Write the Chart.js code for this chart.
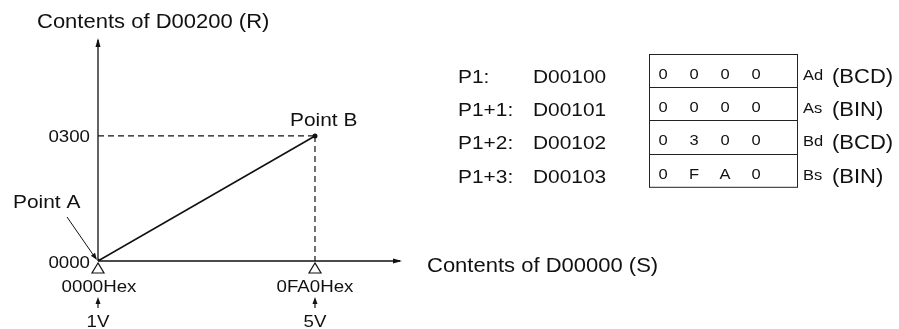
<!DOCTYPE html>
<html lang="en">
<head>
    <meta charset="UTF-8">
    <title>Scaling: D00000 to D00200</title>
    <script src="https://cdn.jsdelivr.net/npm/chart.js"></script>
    <style>
        body {
            margin: 0;
            background: #fff;
        }
        canvas {
            display: block;
        }
    </style>
</head>
<body>
    <canvas id="scaleChart" width="899" height="329"></canvas>

    <script>
        // source (S) and result (R) values, hex words
        const xHexLabels = ['0000Hex', '0FA0Hex'];
        const xValues = [0x0000, 0x0FA0];
        const yValues = [0, 300];
        const yTickLabels = ['0000', '0300'];
        const voltLabels = ['1V', '5V'];
        const pointNames = ['Point A', 'Point B'];

        // parameter words P1..P1+3
        const paramNames = ['P1:', 'P1+1:', 'P1+2:', 'P1+3:'];
        const paramAddrs = ['D00100', 'D00101', 'D00102', 'D00103'];
        const paramWords = ['0000', '0000', '0300', '0FA0'];
        const paramKeys = ['Ad', 'As', 'Bd', 'Bs'];
        const paramFormats = ['(BCD)', '(BIN)', '(BCD)', '(BIN)'];

        const FONT = "'Liberation Sans', Arial, sans-serif";
        const INK = '#111';
        const SX = 1.1;   // the original lettering is a bit wider than Arial

        function arrowHead(ctx, x, y, angle, len, half) {
            ctx.save();
            ctx.translate(x, y);
            ctx.rotate(angle);
            ctx.beginPath();
            ctx.moveTo(0, 0);
            ctx.lineTo(-len, -half);
            ctx.lineTo(-len, half);
            ctx.closePath();
            ctx.fill();
            ctx.restore();
        }

        function textWidth(ctx, str, size) {
            ctx.font = size + 'px ' + FONT;
            return ctx.measureText(str).width * SX;
        }

        function drawText(ctx, str, x, y, size, align) {
            const w = textWidth(ctx, str, size);
            let left = x;
            if (align === 'right') left = x - w;
            if (align === 'center') left = x - w / 2;
            ctx.save();
            ctx.translate(left, y);
            ctx.scale(SX, 1);
            ctx.textAlign = 'left';
            ctx.textBaseline = 'alphabetic';
            ctx.fillText(str, 0, 0);
            ctx.restore();
        }

        const diagramPlugin = {
            id: 'diagram',
            beforeDatasetsDraw(chart) {
                const { ctx, chartArea, scales } = chart;
                const x0 = scales.x.getPixelForValue(0);
                const y0 = scales.y.getPixelForValue(0);
                ctx.save();
                ctx.strokeStyle = INK;
                ctx.fillStyle = INK;
                ctx.lineWidth = 1.3;
                // axes
                ctx.beginPath();
                ctx.moveTo(x0, y0);
                ctx.lineTo(chartArea.right - 2, y0);
                ctx.moveTo(x0, y0);
                ctx.lineTo(x0, chartArea.top + 2);
                ctx.stroke();
                arrowHead(ctx, chartArea.right, y0, 0, 9, 2.5);
                arrowHead(ctx, x0, chartArea.top, -Math.PI / 2, 9, 2.5);
                ctx.restore();
            },
            afterDraw(chart) {
                const { ctx, scales } = chart;
                const x0 = scales.x.getPixelForValue(0);
                const y0 = scales.y.getPixelForValue(0);
                ctx.save();
                ctx.fillStyle = INK;
                ctx.strokeStyle = INK;

                // axis titles
                drawText(ctx, 'Contents of D00200 (R)', 37, 28, 20, 'left');
                drawText(ctx, 'Contents of D00000 (S)', 427, 272, 20, 'left');

                // y tick labels
                yValues.forEach((v, i) => {
                    const py = scales.y.getPixelForValue(v);
                    drawText(ctx, yTickLabels[i], x0 - 8, py + 6 + (i === 0 ? 1 : 0), 17, 'right');
                });

                // x ticks: triangle, hex label, arrow and voltage
                xValues.forEach((v, i) => {
                    const px = scales.x.getPixelForValue(v);
                    ctx.lineWidth = 1.2;
                    ctx.beginPath();
                    ctx.moveTo(px, y0 + 2);
                    ctx.lineTo(px - 6, y0 + 12);
                    ctx.lineTo(px + 6, y0 + 12);
                    ctx.closePath();
                    ctx.stroke();

                    const lbl = xHexLabels[i];
                    const head = textWidth(ctx, lbl.slice(0, 3), 17);
                    const digit = textWidth(ctx, lbl[3], 17);
                    drawText(ctx, lbl, px - head - digit / 2, y0 + 31, 17, 'left');

                    ctx.beginPath();
                    ctx.moveTo(px, y0 + 47);
                    ctx.lineTo(px, y0 + 40);
                    ctx.stroke();
                    arrowHead(ctx, px, y0 + 36, -Math.PI / 2, 7, 2.5);

                    drawText(ctx, voltLabels[i], px, y0 + 66, 17, 'center');
                });

                // point labels
                drawText(ctx, pointNames[0], 13, 208, 19, 'left');
                const bx = scales.x.getPixelForValue(xValues[1]);
                const by = scales.y.getPixelForValue(yValues[1]);
                drawText(ctx, pointNames[1], bx - 25, by - 10, 19, 'left');

                // leader from Point A label to origin
                ctx.lineWidth = 1;
                ctx.beginPath();
                ctx.moveTo(67, 217);
                ctx.lineTo(x0 - 4, y0 - 5);
                ctx.stroke();
                arrowHead(ctx, x0 - 1, y0 - 1, Math.atan2(y0 - 217, x0 - 67), 7, 2.5);

                // parameter table
                const boxL = 649, boxR = 797, boxT = 54, rowH = 33.2;
                ctx.lineWidth = 1;
                ctx.strokeStyle = '#222';
                ctx.strokeRect(boxL + 0.5, boxT + 0.5, boxR - boxL, rowH * paramWords.length);
                for (let r = 1; r < paramWords.length; r++) {
                    const yy = Math.round(boxT + rowH * r) + 0.5;
                    ctx.beginPath();
                    ctx.moveTo(boxL, yy);
                    ctx.lineTo(boxR, yy);
                    ctx.stroke();
                }
                const colX = [663, 694, 725, 756];
                paramWords.forEach((word, r) => {
                    const top = boxT + rowH * r;
                    drawText(ctx, paramNames[r], 458, top + 29, 19, 'left');
                    drawText(ctx, paramAddrs[r], 533, top + 29, 19, 'left');

                    word.split('').forEach((ch, c) => {
                        drawText(ctx, ch, colX[c], top + 25, 15, 'center');
                    });

                    drawText(ctx, paramKeys[r], 803, top + 26, 15, 'left');
                    drawText(ctx, paramFormats[r], 832, top + 29, 20, 'left');
                });
                ctx.restore();
            }
        };

        const ctx = document.getElementById('scaleChart').getContext('2d');

        const scaleChart = new Chart(ctx, {
            type: 'scatter',
            data: {
                datasets: [
                    {
                        label: 'R vs S',
                        data: xValues.map((x, i) => ({ x: x, y: yValues[i] })),
                        showLine: true,
                        borderColor: INK,
                        borderWidth: 1.6,
                        pointRadius: 2.5,
                        pointBackgroundColor: INK,
                        pointBorderWidth: 0
                    },
                    {
                        label: 'B level',
                        data: [{ x: xValues[0], y: yValues[1] }, { x: xValues[1], y: yValues[1] }],
                        showLine: true,
                        borderColor: INK,
                        borderWidth: 1.2,
                        borderDash: [6, 4],
                        pointRadius: 0
                    },
                    {
                        label: 'B drop',
                        data: [{ x: xValues[1], y: yValues[1] }, { x: xValues[1], y: yValues[0] }],
                        showLine: true,
                        borderColor: INK,
                        borderWidth: 1.2,
                        borderDash: [6, 4],
                        pointRadius: 0
                    }
                ]
            },
            options: {
                responsive: false,
                animation: false,
                layout: {
                    autoPadding: false,
                    padding: { left: 98, right: 497, top: 38, bottom: 68 }
                },
                plugins: {
                    legend: { display: false },
                    tooltip: { enabled: false }
                },
                scales: {
                    x: { type: 'linear', min: 0, max: 5604, display: false },
                    y: { type: 'linear', min: 0, max: 535, display: false }
                }
            },
            plugins: [diagramPlugin]
        });
    </script>
</body>
</html>
